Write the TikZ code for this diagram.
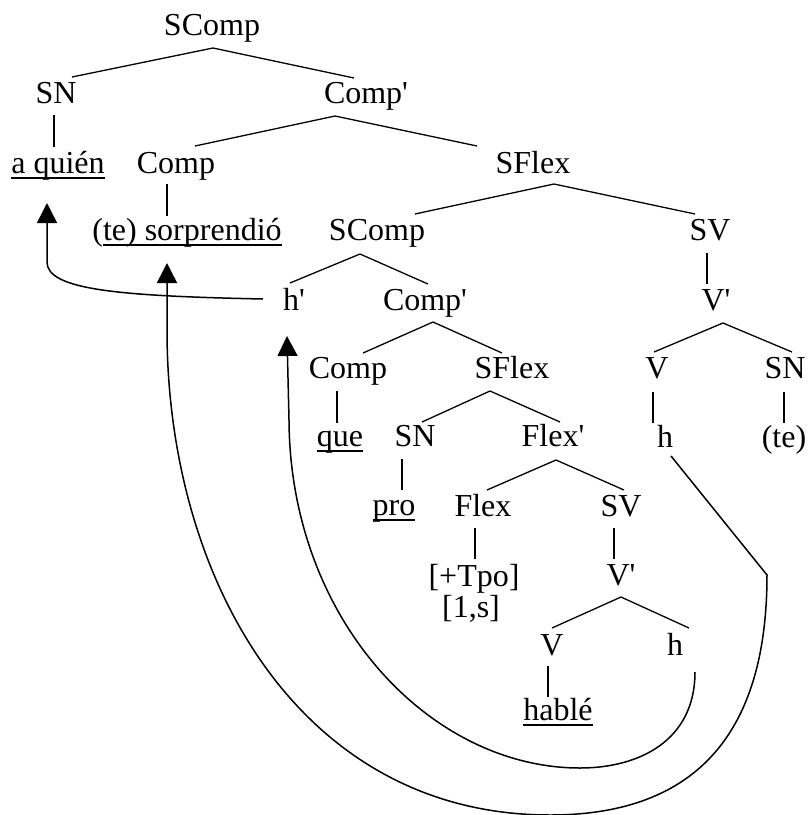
\documentclass[tikz,border=0pt]{standalone}
\usepackage{fontspec}
\setmainfont{Liberation Serif}
\newfontfamily\treefont{Liberation Serif}
\usetikzlibrary{calc,arrows.meta}
\newcommand\ulx[1]{\setbox0\hbox{#1}\rlap{\rule[-5.8pt]{\wd0}{1.6pt}}\box0}
\begin{document}
\begin{tikzpicture}[x=1pt,y=-1pt,
  lbl/.style={anchor=base,inner sep=0pt,font=\treefont\fontsize{32}{36}\selectfont},
  br/.style={line width=1.3pt},
  un/.style={line width=1.9pt},
  mv/.style={line width=1.5pt,-{Triangle[length=20pt,width=20pt]}}]
\useasboundingbox (0,0) rectangle (810,815);
% nodes
\node[lbl] (top) at (212,35) {SComp};
\node[lbl] (sn1) at (56,103) {SN};
\node[lbl] (compb1) at (366,103) {Comp'};
\node[lbl] (aquien) at (58,173) {\ulx{a quién}};
\node[lbl] (comp1) at (176,173) {Comp};
\node[lbl] (sflex1) at (533,173) {SFlex};
\node[lbl] (sorprendio) at (187,240) {(\ulx{te) sorprendió}};
\node[lbl] (scomp2) at (377,240) {SComp};
\node[lbl] (sv1) at (710,240) {SV};
\node[lbl] (hp) at (294,310) {h'};
\node[lbl] (compb2) at (425,310) {Comp'};
\node[lbl] (vb1) at (716,310) {V'};
\node[lbl] (comp2) at (348,378) {Comp};
\node[lbl] (sflex2) at (512,378) {SFlex};
\node[lbl] (v1) at (657,378) {V};
\node[lbl] (sn3) at (785,378) {SN};
\node[lbl] (que) at (340,446) {\ulx{que}};
\node[lbl] (sn2) at (415,446) {SN};
\node[lbl] (flexb) at (553,446) {Flex'};
\node[lbl] (h1) at (665,447) {h};
\node[lbl] (te) at (784,447) {(te)};
\node[lbl] (pro) at (394,515) {\ulx{pro}};
\node[lbl] (flex) at (483,516) {Flex};
\node[lbl] (sv2) at (621,516) {SV};
\node[lbl] (tpo) at (474,586) {[+Tpo]};
\node[lbl] (ones) at (471,617) {[1,s]};
\node[lbl] (vb2) at (621,585) {V'};
\node[lbl] (v2) at (552,655) {V};
\node[lbl] (h2) at (675,655) {h};
\node[lbl] (hable) at (558,720) {\ulx{hablé}};
% branches
\draw[br] ($(sn1.base)+(16,-26)$) -- ($(top.base)+(1,13)$) -- ($(compb1.base)+(-12,-25)$);
\draw[br] ($(comp1.base)+(19,-27)$) -- ($(compb1.base)+(-31,13)$) -- ($(sflex1.base)+(-56,-27)$);
\draw[br] ($(scomp2.base)+(38,-26)$) -- ($(sflex1.base)+(21,11)$) -- ($(sv1.base)+(-15,-26)$);
\draw[br] ($(hp.base)+(-4,-27)$) -- ($(scomp2.base)+(-17,14)$) -- ($(compb2.base)+(3,-26)$);
\draw[br] ($(comp2.base)+(15,-25)$) -- ($(compb2.base)+(8,12)$) -- ($(sflex2.base)+(-10,-25)$);
\draw[br] ($(v1.base)+(-3,-26)$) -- ($(vb1.base)+(7,13)$) -- ($(sn3.base)+(7,-26)$);
\draw[br] ($(sn2.base)+(7,-24)$) -- ($(sflex2.base)+(-22,13)$) -- ($(flexb.base)+(7,-24)$);
\draw[br] ($(flex.base)+(4,-26)$) -- ($(flexb.base)+(3,14)$) -- ($(sv2.base)+(3,-26)$);
\draw[br] ($(v2.base)+(0,-27)$) -- ($(vb2.base)+(0,12)$) -- ($(h2.base)+(14,-27)$);
% unary lines
\draw[un] ($(sn1.base)+(-2,12)$) -- ($(aquien.base)+(-4,-26)$);
\draw[un] ($(comp1.base)+(-9,11)$) -- ($(sorprendio.base)+(-20,-24)$);
\draw[un] ($(sv1.base)+(-3,13)$) -- ($(vb1.base)+(-9,-26)$);
\draw[un] ($(comp2.base)+(-11,13)$) -- ($(que.base)+(-3,-23)$);
\draw[un] ($(v1.base)+(-4,14)$) -- ($(h1.base)+(-12,-24)$);
\draw[un] ($(sn3.base)+(-1,14)$) -- ($(te.base)+(0,-24)$);
\draw[un] ($(sn2.base)+(-13,13)$) -- ($(pro.base)+(8,-25)$);
\draw[un] ($(flex.base)+(-8,12)$) -- ($(tpo.base)+(1,-27)$);
\draw[un] ($(sv2.base)+(-7,12)$) -- ($(vb2.base)+(-7,-26)$);
\draw[un] ($(v2.base)+(-4,11)$) -- ($(hable.base)+(-10,-23)$);
% movement arrows
\draw[mv] ($(hp.base)+(-31,-11)$) .. controls (120,296) and (47,290) .. (47,262) -- ($(aquien.base)+(-11,30)$);
\draw[mv] ($(h1.base)+(6,9)$) -- (767,575) .. controls (767,740) and (690,815) .. (550,815)
  .. controls (300,815) and (167,580) .. (167,330) -- ($(sorprendio.base)+(-20,23)$);
\draw[mv] ($(h2.base)+(20,17)$) .. controls (695,740) and (640,768) .. (580,768)
  .. controls (430,768) and (290,620) .. (289,420) -- ($(hp.base)+(-7,26)$);
\end{tikzpicture}
\end{document}
